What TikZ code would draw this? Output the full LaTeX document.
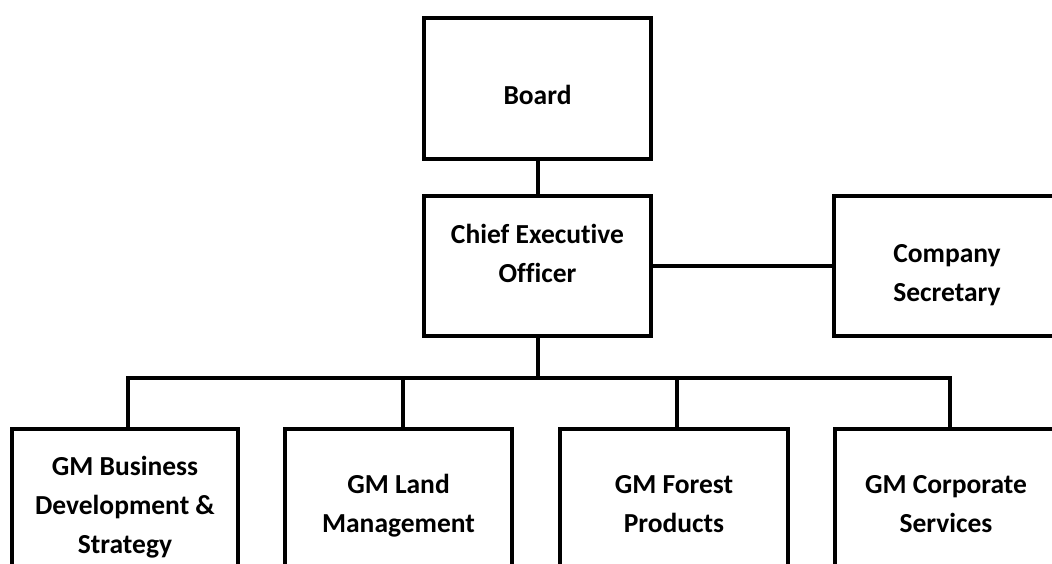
\documentclass[tikz,border=0pt]{standalone}
\usepackage{fontspec}
\setmainfont{Carlito}[Ligatures={NoCommon}]
\newcommand{\txtlines}[1]{\begin{tabular}[t]{@{}c@{}}#1\end{tabular}}
\begin{document}
\begin{tikzpicture}[x=1pt,y=-1pt,
  orgbox/.style={draw=black, line width=4pt, fill=white, rectangle, inner sep=0pt},
  orgtxt/.style={anchor=base, inner sep=0pt, font=\fontsize{27.5}{39}\selectfont\bfseries},
  conn/.style={draw=black, line width=4pt, line join=miter}]
\useasboundingbox (0,0) rectangle (1052,563);
\clip (0,0) rectangle (1052,563);
% boxes
\node[orgbox, minimum width=227pt, minimum height=141pt] (board) at (537.5,88.5) {};
\node[orgbox, minimum width=227pt, minimum height=140pt] (ceo) at (537.5,266) {};
\node[orgbox, minimum width=240pt, minimum height=140pt] (sec) at (954,266) {};
\node[orgbox, minimum width=226pt, minimum height=200pt] (b1) at (125,529) {};
\node[orgbox, minimum width=227pt, minimum height=200pt] (b2) at (398.5,529) {};
\node[orgbox, minimum width=228pt, minimum height=200pt] (b3) at (674,529) {};
\node[orgbox, minimum width=240pt, minimum height=200pt] (b4) at (955,529) {};
% texts
\node[orgtxt] (tboard) at (537.5,104) {Board};
\node[orgtxt] (tceo) at (537.5,243) {\txtlines{Chief Executive\\Officer}};
\node[orgtxt] (tsec) at (947,262) {\txtlines{Company\\Secretary}};
\node[orgtxt] (tb1) at (125,475) {\txtlines{GM Business\\Development \&\\Strategy}};
\node[orgtxt] (tb2) at (398.5,493) {\txtlines{GM Land\\Management}};
\node[orgtxt] (tb3) at (674,493) {\txtlines{GM Forest\\Products}};
\node[orgtxt] (tb4) at (946,493) {\txtlines{GM Corporate\\Services}};
% bus coordinates
\coordinate (j1) at (128,378);
\coordinate (j2) at (403,378);
\coordinate (j3) at (677,378);
\coordinate (j4) at (950,378);
% connectors
\draw[conn] (board.south) -- (ceo.north);
\draw[conn] (ceo.east) -- (sec.west);
\draw[conn] (ceo.south) -- (ceo.south |- j1);
\draw[conn] (b1.north -| j1) -- (j1) -- (j4) -- (b4.north -| j4);
\draw[conn] (j2) -- (b2.north -| j2);
\draw[conn] (j3) -- (b3.north -| j3);
\end{tikzpicture}
\end{document}
